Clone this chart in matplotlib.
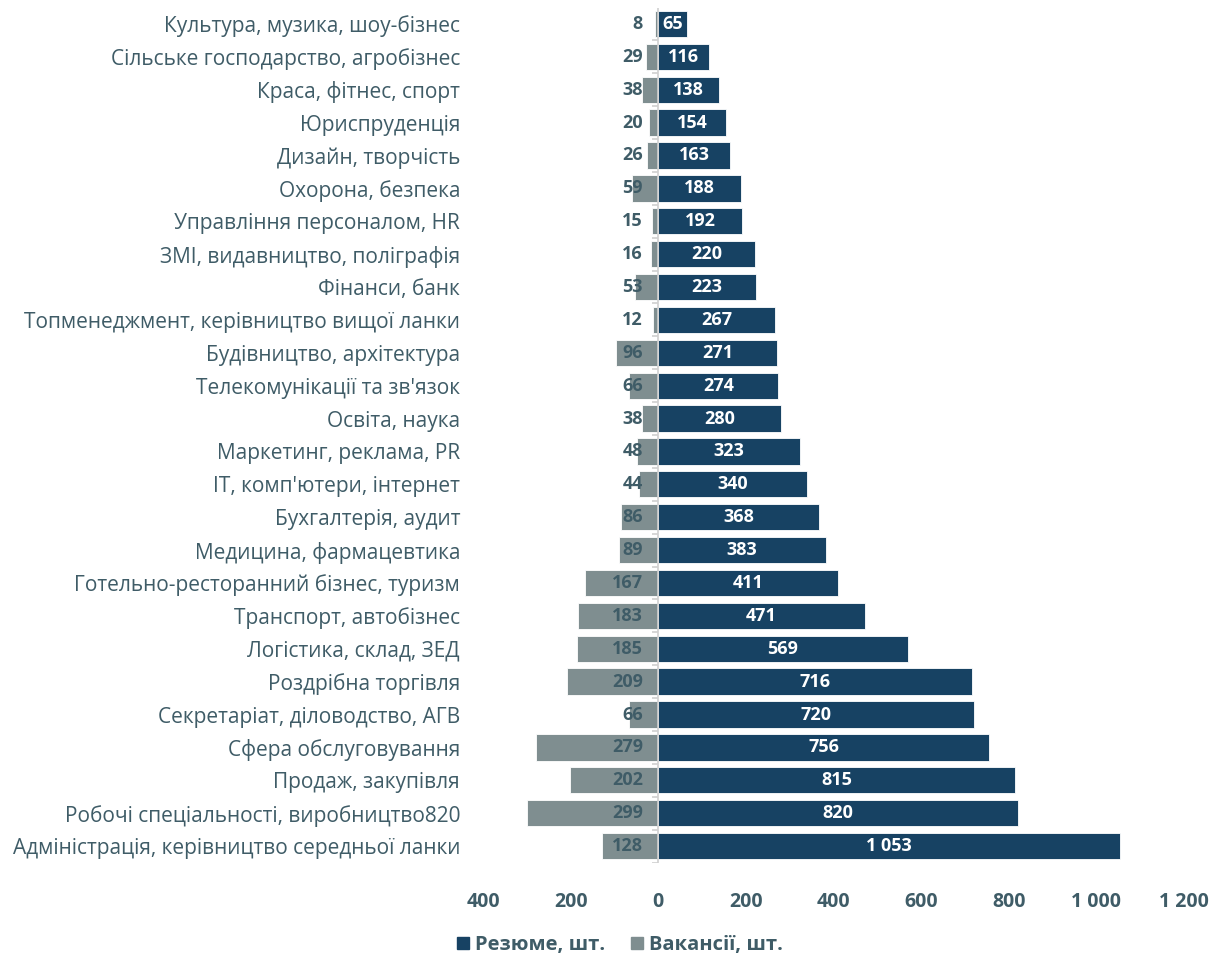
import matplotlib
matplotlib.use("Agg")
import matplotlib.pyplot as plt
from matplotlib.ticker import FuncFormatter
from matplotlib.patches import Patch

plt.rcParams['font.family'] = ['Open Sans', 'DejaVu Sans']

categories = [
    "Культура, музика, шоу-бізнес",
    "Сільське господарство, агробізнес",
    "Краса, фітнес, спорт",
    "Юриспруденція",
    "Дизайн, творчість",
    "Охорона, безпека",
    "Управління персоналом, HR",
    "ЗМІ, видавництво, поліграфія",
    "Фінанси, банк",
    "Топменеджмент, керівництво вищої ланки",
    "Будівництво, архітектура",
    "Телекомунікації та зв'язок",
    "Освіта, наука",
    "Маркетинг, реклама, PR",
    "IT, комп'ютери, інтернет",
    "Бухгалтерія, аудит",
    "Медицина, фармацевтика",
    "Готельно-ресторанний бізнес, туризм",
    "Транспорт, автобізнес",
    "Логістика, склад, ЗЕД",
    "Роздрібна торгівля",
    "Секретаріат, діловодство, АГВ",
    "Сфера обслуговування",
    "Продаж, закупівля",
    "Робочі спеціальності, виробництво820",
    "Адміністрація, керівництво середньої ланки",
]
vacancies = [8, 29, 38, 20, 26, 59, 15, 16, 53, 12, 96, 66, 38, 48, 44, 86, 89,
             167, 183, 185, 209, 66, 279, 202, 299, 128]
resumes = [65, 116, 138, 154, 163, 188, 192, 220, 223, 267, 271, 274, 280, 323,
           340, 368, 383, 411, 471, 569, 716, 720, 756, 815, 820, 1053]
xticks = [-400, -200, 0, 200, 400, 600, 800, 1000, 1200]

C_RES = "#174263"
C_VAC = "#7f8e90"
C_TXT = "#3f5c67"

fig = plt.figure(figsize=(12.24, 9.56), dpi=100)
ax = fig.add_axes([483/1224, 1-862.5/956, (1184-483)/1224, (862.5-7.5)/956])

n = len(categories)
y = list(range(n))
ax.barh(y, resumes, height=0.8, color=C_RES, edgecolor="white", linewidth=0.6, zorder=2)
ax.barh(y, [-v for v in vacancies], height=0.8, color=C_VAC, edgecolor="white", linewidth=0.6, zorder=2)

ax.set_ylim(n - 0.5, -0.5)
ax.set_xlim(-400, 1200)

def fmt(v):
    return f"{int(v):,}".replace(",", " ")

for yi, r, v in zip(y, resumes, vacancies):
    ax.text(r / 2, yi, fmt(r), ha="center", va="center", color="white",
            fontsize=13, fontweight="bold", zorder=4)
    ax.annotate(fmt(v), xy=(0, yi), xytext=(-11, 0), textcoords="offset points",
                ha="right", va="center", color=C_TXT, fontsize=13,
                fontweight="bold", zorder=4)

# zero axis line with category tick marks
ax.vlines(0, -0.5, n - 0.5, color="#d0d0d0", linewidth=1.2, zorder=3)
ax.hlines([i - 0.5 for i in range(n + 1)], -14, 0, color="#d0d0d0", linewidth=1.2, zorder=3)

ax.set_yticks(y)
ax.set_yticklabels(categories, fontsize=15, color=C_TXT)
ax.tick_params(axis="y", length=0, pad=16.5)
ax.set_xticks(xticks)
ax.xaxis.set_major_formatter(FuncFormatter(lambda v, p: fmt(abs(v))))
ax.tick_params(axis="x", length=0, pad=21, labelsize=14, labelcolor=C_TXT)
for lab in ax.get_xticklabels():
    lab.set_fontweight("bold")

for s in ax.spines.values():
    s.set_visible(False)

handles = [Patch(color=C_RES, label="Резюме, шт."), Patch(color=C_VAC, label="Вакансії, шт.")]
leg = fig.legend(handles=handles, loc="center", bbox_to_anchor=(620/1224, 1-945/956),
                 ncol=2, frameon=False, handlelength=0.6, handleheight=0.6,
                 handletextpad=0.3, columnspacing=1.3,
                 prop={"size": 14.5, "weight": "bold"})
for t in leg.get_texts():
    t.set_color(C_TXT)

fig.savefig("out.png", dpi=100)
